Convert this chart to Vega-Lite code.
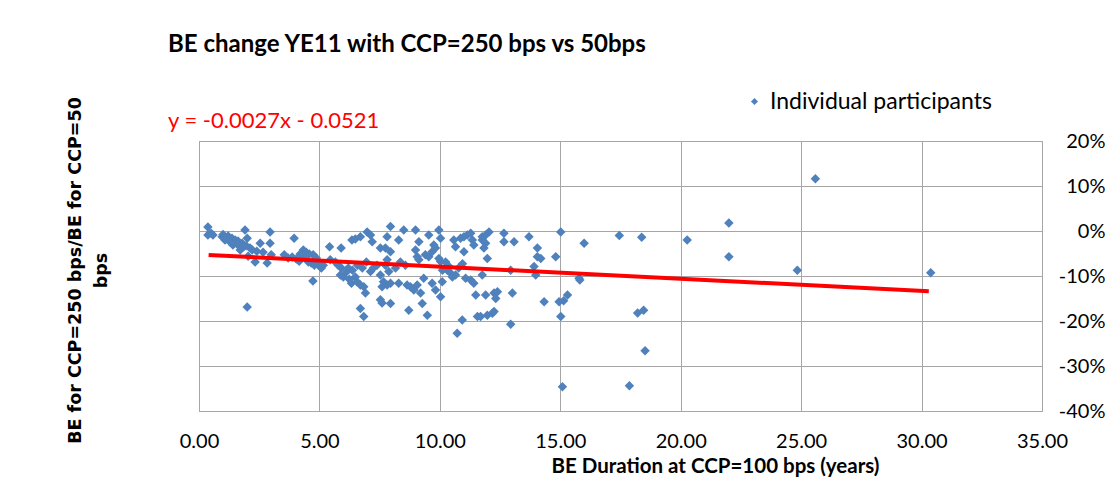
{
  "$schema": "https://vega.github.io/schema/vega-lite/v6.json",
  "autosize": "none",
  "width": 843,
  "height": 270,
  "padding": {"left": 199, "top": 141, "right": 78, "bottom": 70},
  "background": "white",
  "datasets": {
    "pts": [
      {"duration":0.37,"change":0.009},{"duration":0.37,"change":-0.009},{"duration":0.58,"change":-0.009},{"duration":0.96,"change":-0.013},{"duration":1.08,"change":-0.020},{"duration":1.21,"change":-0.011},{"duration":1.37,"change":-0.016},{"duration":1.50,"change":-0.020},{"duration":1.62,"change":-0.022},{"duration":1.79,"change":-0.027},{"duration":1.91,"change":0.002},{"duration":2.00,"change":-0.016},{"duration":1.96,"change":-0.033},{"duration":2.12,"change":-0.038},{"duration":2.21,"change":-0.042},{"duration":2.04,"change":-0.056},{"duration":2.33,"change":-0.069},{"duration":2.54,"change":-0.027},{"duration":2.66,"change":-0.047},{"duration":2.83,"change":-0.071},{"duration":2.95,"change":-0.002},{"duration":2.95,"change":-0.027},{"duration":3.00,"change":-0.053},{"duration":2.00,"change":-0.169},{"duration":1.41,"change":-0.031},{"duration":1.71,"change":-0.042},{"duration":0.50,"change":-0.005},{"duration":1.00,"change":-0.008},{"duration":1.30,"change":-0.025},{"duration":1.60,"change":-0.030},{"duration":1.85,"change":-0.035},{"duration":2.40,"change":-0.045},{"duration":1.10,"change":-0.015},
      {"duration":3.95,"change":-0.016},{"duration":4.33,"change":-0.042},{"duration":4.45,"change":-0.047},{"duration":4.58,"change":-0.051},{"duration":4.41,"change":-0.058},{"duration":4.74,"change":-0.053},{"duration":4.87,"change":-0.060},{"duration":4.54,"change":-0.069},{"duration":4.66,"change":-0.071},{"duration":4.79,"change":-0.076},{"duration":4.95,"change":-0.071},{"duration":5.04,"change":-0.080},{"duration":5.16,"change":-0.076},{"duration":5.08,"change":-0.082},{"duration":4.20,"change":-0.051},{"duration":4.73,"change":-0.111},{"duration":5.42,"change":-0.035},{"duration":5.90,"change":-0.038},{"duration":5.78,"change":-0.076},{"duration":5.91,"change":-0.082},{"duration":5.87,"change":-0.098},{"duration":5.99,"change":-0.102},{"duration":6.12,"change":-0.091},{"duration":6.24,"change":-0.107},{"duration":6.20,"change":-0.082},{"duration":6.37,"change":-0.087},{"duration":6.33,"change":-0.116},{"duration":6.35,"change":-0.020},{"duration":6.49,"change":-0.018},{"duration":6.70,"change":-0.013},{"duration":6.98,"change":-0.002},{"duration":7.12,"change":-0.009},{"duration":7.19,"change":-0.024},{"duration":7.53,"change":-0.038},{"duration":6.49,"change":-0.102},{"duration":6.56,"change":-0.113},{"duration":6.70,"change":-0.120},{"duration":6.84,"change":-0.124},{"duration":6.91,"change":-0.138},{"duration":6.70,"change":-0.172},{"duration":6.84,"change":-0.190},{"duration":7.12,"change":-0.090},{"duration":7.24,"change":-0.082},{"duration":7.39,"change":-0.076},{"duration":7.53,"change":-0.098},{"duration":7.66,"change":-0.113},{"duration":7.60,"change":-0.124},{"duration":7.53,"change":-0.153},{"duration":7.60,"change":-0.160},{"duration":7.74,"change":-0.076},{"duration":7.81,"change":-0.064},{"duration":5.45,"change":-0.064},{"duration":5.66,"change":-0.069},{"duration":6.58,"change":-0.076},{"duration":6.78,"change":-0.082},{"duration":6.95,"change":-0.069},{"duration":3.54,"change":-0.053},{"duration":3.70,"change":-0.060},{"duration":3.87,"change":-0.058},{"duration":4.04,"change":-0.062},{"duration":4.16,"change":-0.067},
      {"duration":7.95,"change":0.010},{"duration":8.50,"change":0.002},{"duration":8.99,"change":0.002},{"duration":8.29,"change":-0.020},{"duration":7.81,"change":-0.013},{"duration":9.13,"change":-0.024},{"duration":9.54,"change":-0.009},{"duration":9.96,"change":0.002},{"duration":10.03,"change":-0.016},{"duration":8.99,"change":-0.042},{"duration":9.06,"change":-0.057},{"duration":9.13,"change":-0.064},{"duration":9.40,"change":-0.053},{"duration":9.54,"change":-0.057},{"duration":9.68,"change":-0.046},{"duration":9.75,"change":-0.031},{"duration":9.82,"change":-0.038},{"duration":9.96,"change":-0.061},{"duration":10.03,"change":-0.068},{"duration":7.74,"change":-0.038},{"duration":7.95,"change":-0.046},{"duration":7.88,"change":-0.090},{"duration":7.81,"change":-0.120},{"duration":7.95,"change":-0.116},{"duration":8.29,"change":-0.116},{"duration":7.95,"change":-0.161},{"duration":8.64,"change":-0.120},{"duration":8.78,"change":-0.124},{"duration":8.92,"change":-0.131},{"duration":9.06,"change":-0.120},{"duration":9.33,"change":-0.105},{"duration":9.20,"change":-0.138},{"duration":9.68,"change":-0.116},{"duration":9.82,"change":-0.131},{"duration":10.10,"change":-0.113},{"duration":10.03,"change":-0.146},{"duration":8.71,"change":-0.176},{"duration":9.27,"change":-0.161},{"duration":9.48,"change":-0.187},{"duration":10.31,"change":-0.087},{"duration":10.45,"change":-0.094},{"duration":10.52,"change":-0.102},{"duration":10.65,"change":-0.098},{"duration":10.58,"change":-0.020},{"duration":10.65,"change":-0.035},{"duration":10.86,"change":-0.016},{"duration":11.00,"change":-0.013},{"duration":11.14,"change":-0.009},{"duration":11.28,"change":-0.005},{"duration":11.35,"change":-0.020},{"duration":11.41,"change":-0.031},{"duration":11.00,"change":-0.046},{"duration":11.76,"change":-0.020},{"duration":11.07,"change":-0.105},{"duration":11.28,"change":-0.109},{"duration":11.41,"change":-0.116},{"duration":11.49,"change":-0.142},{"duration":10.93,"change":-0.198},{"duration":11.56,"change":-0.190},{"duration":10.72,"change":-0.227},{"duration":8.36,"change":-0.069},{"duration":8.57,"change":-0.076},{"duration":10.24,"change":-0.069},{"duration":10.36,"change":-0.078},{"duration":10.78,"change":-0.082},{"duration":10.94,"change":-0.073},{"duration":10.11,"change":-0.087},{"duration":8.16,"change":-0.082},
      {"duration":12.04,"change":-0.002},{"duration":11.90,"change":-0.009},{"duration":11.76,"change":-0.013},{"duration":11.90,"change":-0.027},{"duration":11.83,"change":-0.038},{"duration":12.66,"change":-0.005},{"duration":12.66,"change":-0.024},{"duration":13.08,"change":-0.024},{"duration":13.70,"change":-0.013},{"duration":14.05,"change":-0.038},{"duration":15.02,"change":-0.002},{"duration":11.97,"change":-0.061},{"duration":14.05,"change":-0.057},{"duration":14.19,"change":-0.061},{"duration":14.81,"change":-0.057},{"duration":11.76,"change":-0.098},{"duration":12.94,"change":-0.087},{"duration":13.91,"change":-0.079},{"duration":13.98,"change":-0.098},{"duration":15.78,"change":-0.105},{"duration":11.90,"change":-0.142},{"duration":12.25,"change":-0.138},{"duration":12.39,"change":-0.135},{"duration":12.32,"change":-0.150},{"duration":13.01,"change":-0.138},{"duration":14.33,"change":-0.157},{"duration":14.95,"change":-0.157},{"duration":15.14,"change":-0.155},{"duration":15.30,"change":-0.142},{"duration":11.97,"change":-0.187},{"duration":12.18,"change":-0.183},{"duration":12.25,"change":-0.179},{"duration":11.69,"change":-0.190},{"duration":12.94,"change":-0.207},{"duration":15.02,"change":-0.190},
      {"duration":15.99,"change":-0.027},{"duration":17.45,"change":-0.010},{"duration":18.38,"change":-0.014},{"duration":20.27,"change":-0.020},{"duration":22.00,"change":0.018},{"duration":22.00,"change":-0.057},{"duration":24.84,"change":-0.087},{"duration":25.59,"change":0.116},{"duration":15.81,"change":-0.109},{"duration":18.21,"change":-0.182},{"duration":18.46,"change":-0.176},{"duration":18.52,"change":-0.266},{"duration":15.09,"change":-0.346},{"duration":17.87,"change":-0.344},{"duration":30.38,"change":-0.093}
    ],
    "fit": [
      {"duration":0.4,"change":-0.0532},
      {"duration":30.3,"change":-0.1339}
    ]
  },
  "title": {
    "text": "BE change YE11 with CCP=250 bps vs 50bps",
    "subtitle": "\u2002y = -0.0027x - 0.0521",
    "anchor": "start",
    "frame": "group",
    "orient": "top",
    "dx": -31,
    "dy": 42,
    "offset": 0,
    "font": "Lato",
    "fontSize": 24,
    "fontWeight": "bold",
    "color": "black",
    "subtitleFont": "Lato",
    "subtitleFontSize": 22,
    "subtitleColor": "#FF0000",
    "subtitlePadding": 54
  },
  "config": {
    "view": {"stroke": "#A6A6A6", "strokeWidth": 1}
  },
  "layer": [
    {
      "data": {"name": "pts"},
      "mark": {"type": "point", "shape": "diamond", "filled": true, "size": 90, "opacity": 1},
      "encoding": {
        "x": {
          "field": "duration", "type": "quantitative",
          "scale": {"domain": [0, 35], "nice": false, "zero": false},
          "axis": {
            "title": "BE Duration at CCP=100 bps (years)",
            "values": [0, 5, 10, 15, 20, 25, 30, 35],
            "format": ".2f",
            "grid": true, "gridColor": "#A6A6A6", "gridWidth": 1,
            "domain": false, "ticks": false,
            "labelFlush": false, "labelOverlap": false,
            "labelFont": "Lato", "labelFontSize": 20, "labelColor": "black", "labelPadding": 20,
            "titleFont": "Lato", "titleFontSize": 20.5, "titleFontWeight": "bold", "titleColor": "black",
            "titleX": 516, "titleY": 55, "titleBaseline": "middle", "titleAlign": "center"
          }
        },
        "y": {
          "field": "change", "type": "quantitative",
          "scale": {"domain": [-0.4, 0.2], "nice": false, "zero": false},
          "axis": {
            "orient": "right",
            "title": null,
            "values": [-0.4, -0.3, -0.2, -0.1, 0, 0.1, 0.2],
            "labelExpr": "round(datum.value*100) + '%'",
            "grid": true, "gridColor": "#A6A6A6", "gridWidth": 1,
            "domain": false, "ticks": false,
            "labelFlush": false, "labelOverlap": false,
            "labelAlign": "right", "labelBaseline": "middle", "labelPadding": 63,
            "labelFont": "Lato", "labelFontSize": 20, "labelColor": "black"
          }
        },
        "color": {
          "datum": "Individual participants", "type": "nominal",
          "scale": {"range": ["#4F81BD"]},
          "legend": {
            "orient": "none", "legendX": 544, "legendY": -51,
            "title": null, "symbolType": "diamond", "symbolSize": 50,
            "symbolStrokeWidth": 0, "padding": 0, "labelLimit": 0,
            "labelFont": "Lato", "labelFontSize": 23, "labelColor": "black"
          }
        }
      }
    },
    {
      "data": {"name": "fit"},
      "mark": {"type": "line", "color": "#FF0000", "strokeWidth": 4},
      "encoding": {
        "x": {"field": "duration", "type": "quantitative"},
        "y": {
          "field": "change", "type": "quantitative",
          "axis": {
            "orient": "left",
            "labels": false, "ticks": false, "domain": false, "grid": false,
            "title": ["BE  for CCP=250 bps/BE for CCP=50", "bps"],
            "titleFont": "DejaVu Sans", "titleFontSize": 17.5, "titleFontWeight": "bold", "titleColor": "black",
            "titleX": -133, "titleY": 129, "titleAngle": -90, "titleAlign": "center", "titleBaseline": "top",
            "titleLineHeight": 26
          }
        }
      }
    }
  ],
  "resolve": {"axis": {"y": "independent"}}
}
